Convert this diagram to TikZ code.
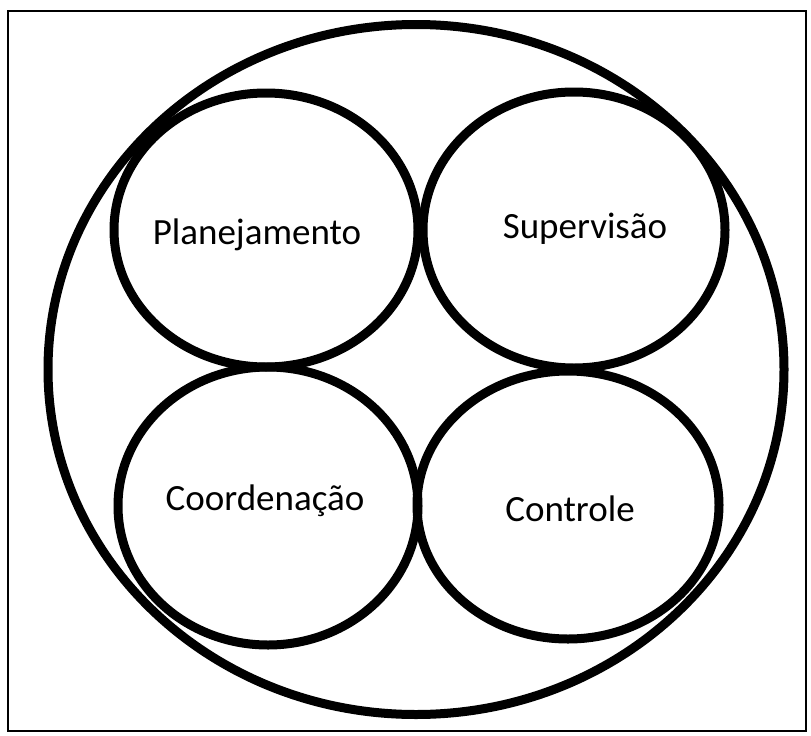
\documentclass[tikz,border=0pt]{standalone}
\usepackage{fontspec}
\setmainfont{Carlito}
\usetikzlibrary{shapes.geometric}
\begin{document}
\begin{tikzpicture}[x=1pt,y=-1pt,
  ring/.style={draw=black,line width=9pt,ellipse,inner sep=0pt,outer sep=0pt},
  lbl/.style={font=\fontsize{37}{42}\selectfont,anchor=base,inner sep=0pt,text=black}]
  \useasboundingbox (0,0) rectangle (811,736);
  % frame
  \draw[line width=2pt] (8,11) rectangle (806,731);
  % outer ring
  \node[ring,minimum width=736pt,minimum height=690pt] (outer) at (416,369.5) {};
  % four inner rings
  \node[ring,minimum width=304pt,minimum height=274pt] (plan) at (266,230) {};
  \node[ring,minimum width=302pt,minimum height=276pt] (sup)  at (574,230) {};
  \node[ring,minimum width=300pt,minimum height=278pt] (coord) at (268,506) {};
  \node[ring,minimum width=302pt,minimum height=268pt] (ctrl) at (568,505) {};
  % labels
  \node[lbl] (tplan)  at (257,244) {Planejamento};
  \node[lbl] (tsup)   at (585,238) {Supervisão};
  \node[lbl] (tcoord) at (265,510) {Coordenação};
  \node[lbl] (tctrl)  at (570,521) {Controle};
\end{tikzpicture}
\end{document}
